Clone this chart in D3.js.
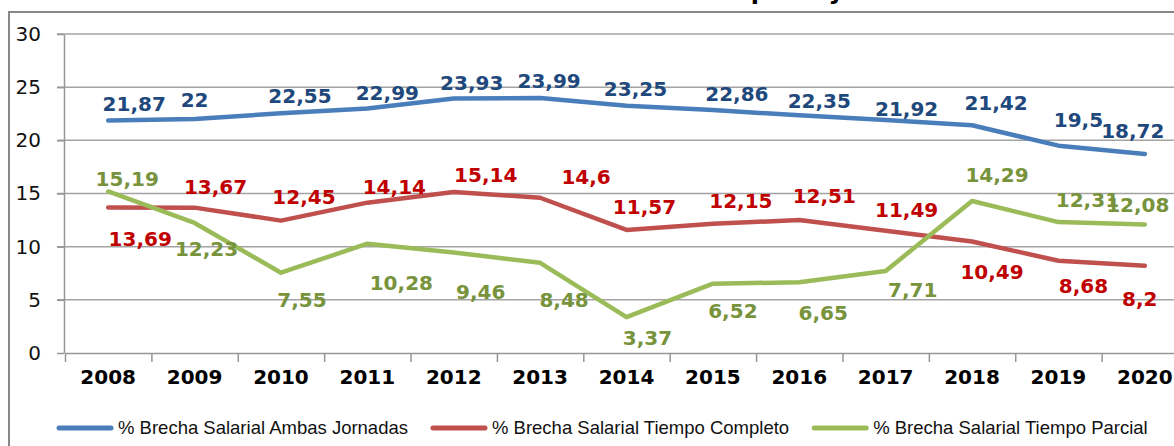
<!DOCTYPE html>
<html>
<head>
<meta charset="utf-8">
<script src="https://cdn.jsdelivr.net/npm/d3@7"></script>
<style>
  body { margin: 0; background: #fff; }
  svg { display: block; }
</style>
</head>
<body>
<div id="chart"></div>
<script>
// data
var years = [2008, 2009, 2010, 2011, 2012, 2013, 2014, 2015, 2016, 2017, 2018, 2019, 2020];
var ambas = [21.87, 22, 22.55, 22.99, 23.93, 23.99, 23.25, 22.86, 22.35, 21.92, 21.42, 19.5, 18.72];
var completo = [13.69, 13.67, 12.45, 14.14, 15.14, 14.6, 11.57, 12.15, 12.51, 11.49, 10.49, 8.68, 8.2];
var parcial = [15.19, 12.23, 7.55, 10.28, 9.46, 8.48, 3.37, 6.52, 6.65, 7.71, 14.29, 12.31, 12.08];
var yTicks = [0, 5, 10, 15, 20, 25, 30];
var seriesNames = [
    "% Brecha Salarial Ambas Jornadas",
    "% Brecha Salarial Tiempo Completo",
    "% Brecha Salarial Tiempo Parcial"
];
var title = "Evolución de la Brecha Salarial Completa y Parcial";

// where each data label sits, relative to its point (px)
var ambasLabelPos = [[26,-17],[0,-19],[19,-17],[20,-16],[18,-16],[9,-17],[9,-17],[24,-16],[20,-15],[21,-11],[24,-22],[20,-26],[-12,-23]];
var completoLabelPos = [[32,31],[21,-21],[23,-24],[27,-16],[32,-17],[46,-21],[18,-23],[28,-23],[25,-24],[21,-21],[20,30],[25,25],[-5,33]];
var parcialLabelPos = [[19,-13],[12,26],[21,27],[34,39],[27,39],[24,37],[21,21],[20,27],[24,31],[27,19],[25,-26],[29,-22],[-7,-20]];

var W = 1174, H = 446;
var svg = d3.select('#chart').append('svg')
    .attr('width', W)
    .attr('height', H);

svg.append('rect').attr('width', W).attr('height', H).attr('fill', '#fff');

// chart frame (runs off the right and bottom edge)
svg.append('rect')
    .attr('x', 9).attr('y', 12)
    .attr('width', 1220).attr('height', 460)
    .attr('fill', 'none')
    .attr('stroke', '#878787')
    .attr('stroke-width', 2);

// title, cut off at the top
svg.append('text')
    .attr('x', 605).attr('y', -1.5)
    .attr('text-anchor', 'middle')
    .style('font-family', 'DejaVu Sans')
    .style('font-weight', 'bold')
    .style('font-size', '24px')
    .attr('fill', '#000')
    .text(title);

var x = d3.scaleBand().domain(years).range([65, 1188]);
var xEdge = d3.scaleLinear().domain([0, years.length]).range([65, 1188]);
var y = d3.scaleLinear().domain([0, 30]).range([353, 34]);
var cx = function(i){ return x(years[i]) + x.bandwidth() / 2; };

// grid
svg.append('g').selectAll('line')
    .data(yTicks.filter(function(t){ return t > 0; }))
    .enter().append('line')
    .attr('x1', 57).attr('x2', 1188)
    .attr('y1', function(d){ return y(d); })
    .attr('y2', function(d){ return y(d); })
    .attr('stroke', '#a3a3a3')
    .attr('stroke-width', 1.5);

// y axis
var yAxis = svg.append('g')
    .attr('transform', 'translate(64,0)')
    .call(d3.axisLeft(y).tickValues(yTicks).tickSize(7).tickSizeOuter(0).tickPadding(16));
yAxis.selectAll('path, line').attr('stroke', '#969696').attr('stroke-width', 1.5);
yAxis.selectAll('text')
    .style('font-family', 'DejaVu Sans')
    .style('font-size', '20px')
    .attr('fill', '#111');

// x axis: ticks between categories, labels centred
var xAxis = svg.append('g')
    .attr('transform', 'translate(0,353)')
    .call(d3.axisBottom(xEdge).ticks(years.length).tickSize(9).tickSizeOuter(0).tickFormat(''));
xAxis.selectAll('path, line').attr('stroke', '#969696').attr('stroke-width', 1.5);

svg.append('g').selectAll('text')
    .data(years)
    .enter().append('text')
    .attr('x', function(d, i){ return cx(i); })
    .attr('y', 384)
    .attr('text-anchor', 'middle')
    .style('font-family', 'DejaVu Sans')
    .style('font-weight', 'bold')
    .style('font-size', '20px')
    .attr('fill', '#000')
    .text(function(d){ return d; });

// the three series
var series = [
    {name: seriesNames[0], values: ambas, labelPos: ambasLabelPos, line: '#4a7ebb', label: '#1f497d'},
    {name: seriesNames[1], values: completo, labelPos: completoLabelPos, line: '#c0504d', label: '#c00000'},
    {name: seriesNames[2], values: parcial, labelPos: parcialLabelPos, line: '#9bbb59', label: '#77933c'}
];

var line = d3.line()
    .x(function(d, i){ return cx(i); })
    .y(function(d){ return y(d); });

var fmt = function(v){ return String(v).replace('.', ','); };

// draw order as in the picture: red, green, blue on top
[1, 2, 0].forEach(function(k){
    let s = series[k];
    svg.append('path')
        .datum(s.values)
        .attr('d', line)
        .attr('fill', 'none')
        .attr('stroke', s.line)
        .attr('stroke-width', 4.5)
        .attr('stroke-linejoin', 'round')
        .attr('stroke-linecap', 'round');
});

series.forEach(function(s){
    svg.append('g').selectAll('text')
        .data(s.values)
        .enter().append('text')
        .attr('x', function(d, i){ return cx(i) + s.labelPos[i][0]; })
        .attr('y', function(d, i){ return y(d) + s.labelPos[i][1]; })
        .attr('dy', '0.36em')
        .attr('text-anchor', 'middle')
        .style('font-family', 'DejaVu Sans')
        .style('font-weight', 'bold')
        .style('font-size', '20px')
        .attr('fill', s.label)
        .text(fmt);
});

// legend, laid out left to right
var lx = 59, ly = 428;
series.forEach(function(s){
    let g = svg.append('g');
    g.append('line')
        .attr('x1', lx).attr('x2', lx + 52)
        .attr('y1', ly).attr('y2', ly)
        .attr('stroke', s.line)
        .attr('stroke-width', 5)
        .attr('stroke-linecap', 'round');
    let t = g.append('text')
        .attr('x', lx + 59).attr('y', ly)
        .attr('dy', '0.35em')
        .style('font-family', 'Liberation Sans')
        .style('font-size', '18.5px')
        .attr('fill', '#111')
        .text(s.name);
    lx = lx + 59 + t.node().getComputedTextLength() + 25;
});
</script>
</body>
</html>
